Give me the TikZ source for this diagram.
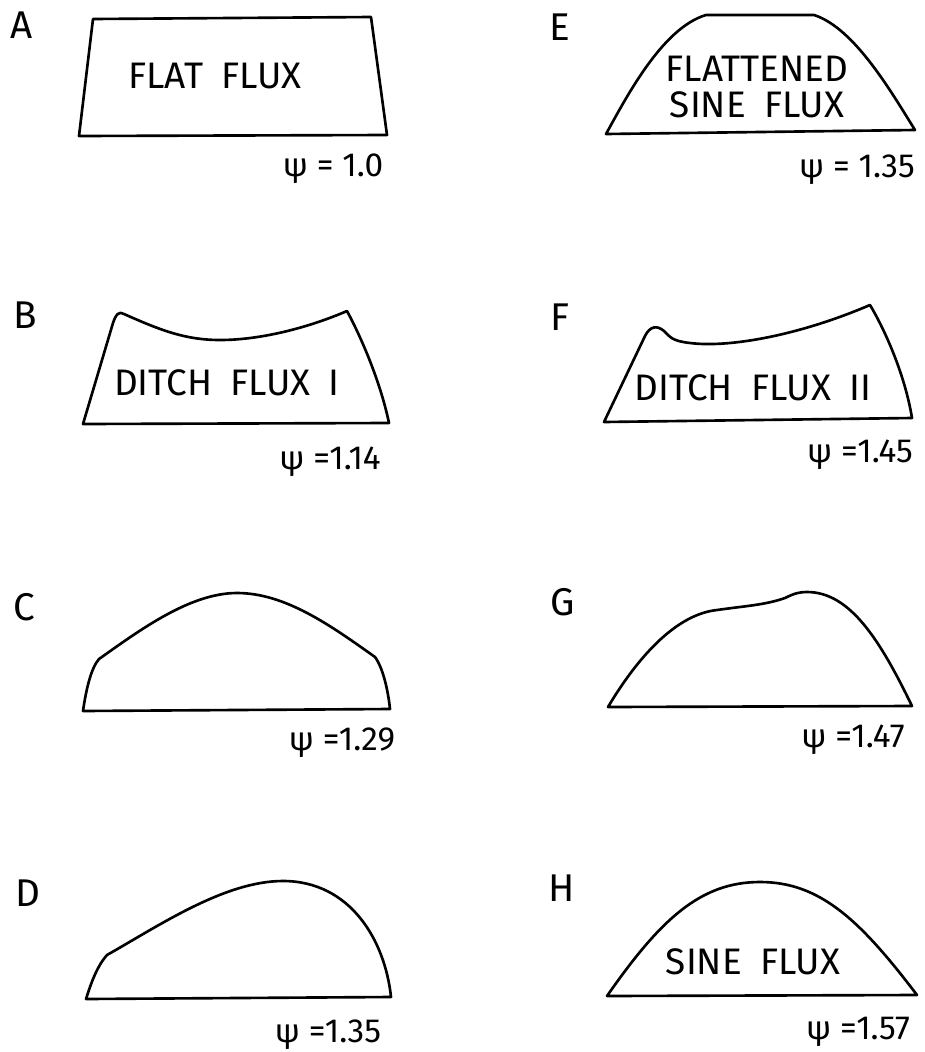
\documentclass[tikz,border=0pt]{standalone}
\usepackage{fontspec}
\setmainfont{Fira Sans}
\usetikzlibrary{positioning}

\begin{document}
\begin{tikzpicture}[
  x=0.02cm, y=-0.02cm,
  flux/.style={draw, line width=1.5pt, line join=round},
  panel/.style={font=\fontsize{22}{26}\selectfont, inner sep=0pt},
  inlabel/.style={font=\fontsize{21}{20}\selectfont, align=center, inner sep=0pt},
  psilabel/.style={font=\fontsize{19}{22}\selectfont, inner sep=0pt}
]
\useasboundingbox (0,0) rectangle (925,1052);

% left column
\node[panel] (lblA) at (22,25) {A};
\draw[flux] (79,136) -- (93,19) -- (371,17) -- (387,135) -- cycle;
\node[inlabel] (txtA) at (215,76) {FLAT\enspace FLUX};
\node[psilabel] (psiA) at (333,169) {ψ = 1.0};

\node[panel] (lblB) at (25,315) {B};
\draw[flux] (83,424) -- (113,323) .. controls (116,314) and (119,311) .. (124,314)
  .. controls (160,330) and (185,340) .. (220,340)
  .. controls (262,340) and (310,327) .. (347,311)
  .. controls (360,335) and (380,380) .. (389,423) -- cycle;
\node[inlabel] (txtB) at (227,383) {DITCH\enspace FLUX\enspace I};
\node[psilabel] (psiB) at (330,462) {ψ =1.14};

\node[panel] (lblC) at (24,607) {C};
\draw[flux] (83,711) .. controls (86,690) and (91,668) .. (99,659)
  .. controls (140,630) and (190,593) .. (237,593)
  .. controls (285,593) and (330,625) .. (375,657)
  .. controls (383,668) and (388,690) .. (390,709) -- cycle;
\node[psilabel] (psiC) at (342,743) {ψ =1.29};

\node[panel] (lblD) at (28,893) {D};
\draw[flux] (86,999) .. controls (92,980) and (98,965) .. (107,955)
  .. controls (160,925) and (225,881) .. (283,881)
  .. controls (350,881) and (385,940) .. (391,997) -- cycle;
\node[psilabel] (psiD) at (328,1035) {ψ =1.35};

% right column
\node[panel] (lblE) at (560,27) {E};
\draw[flux] (606,134) .. controls (626,98) and (662,28) .. (706,15) -- (814,15)
  .. controls (855,28) and (893,95) .. (915,130) -- cycle;
\node[inlabel] (txtE) at (757,87) {FLATTENED\\SINE\enspace FLUX};
\node[psilabel] (psiE) at (857,170) {ψ = 1.35};

\node[panel] (lblF) at (560,317) {F};
\draw[flux] (604,422) -- (645,336) .. controls (650,326) and (657,325) .. (664,331)
  .. controls (670,337) and (672,341) .. (690,343)
  .. controls (730,348) and (800,335) .. (870,305)
  .. controls (885,330) and (905,375) .. (912,418) -- cycle;
\node[inlabel] (txtF) at (753,388) {DITCH\enspace FLUX\enspace II};
\node[psilabel] (psiF) at (860,455) {ψ =1.45};

\node[panel] (lblG) at (563,602) {G};
\draw[flux] (608,707) .. controls (630,670) and (670,615) .. (717,610)
  .. controls (745,606) and (765,605) .. (785,598)
  .. controls (795,593) and (800,592) .. (807,592)
  .. controls (850,592) and (880,640) .. (912,706) -- cycle;
\node[psilabel] (psiG) at (853,740) {ψ =1.47};

\node[panel] (lblH) at (562,888) {H};
\draw[flux] (607,996) .. controls (660,920) and (700,882) .. (760,882)
  .. controls (820,882) and (860,920) .. (917,995) -- cycle;
\node[inlabel] (txtH) at (753,962) {SINE\enspace FLUX};
\node[psilabel] (psiH) at (858,1032) {ψ =1.57};
\end{tikzpicture}
\end{document}
